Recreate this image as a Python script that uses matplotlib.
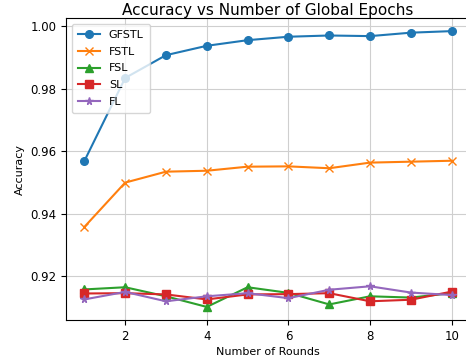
import matplotlib
matplotlib.use('Agg')
import matplotlib.pyplot as plt

### data
rounds = [1, 2, 3, 4, 5, 6, 7, 8, 9, 10]
gfstl = [0.9568, 0.9834, 0.9907, 0.9937, 0.9955, 0.9966, 0.9970, 0.9968, 0.9979, 0.9984]
fstl = [0.9357, 0.9499, 0.9534, 0.9537, 0.9550, 0.9551, 0.9545, 0.9563, 0.9566, 0.9569]
fsl = [0.9157, 0.9164, 0.9135, 0.9101, 0.9164, 0.9146, 0.9109, 0.9135, 0.9131, 0.9145]
sl = [0.9144, 0.9145, 0.9141, 0.9125, 0.9141, 0.9142, 0.9145, 0.9119, 0.9124, 0.9150]
fl = [0.9125, 0.9149, 0.9119, 0.9135, 0.9145, 0.9129, 0.9156, 0.9167, 0.9147, 0.9139]

fig = plt.figure(figsize=(4.66, 3.6), dpi=100)
# right edge of the axes runs a little past the picture, like the cropped original
ax = fig.add_axes([0.1416, 0.111, 0.867, 0.839])

ax.plot(rounds, gfstl, marker='o', markersize=5.5, label='GFSTL')
ax.plot(rounds, fstl, marker='x', markersize=5.5, label='FSTL')
ax.plot(rounds, fsl, marker='^', markersize=5.5, label='FSL')
ax.plot(rounds, sl, marker='s', markersize=5.5, label='SL')
ax.plot(rounds, fl, marker='*', markersize=5.5, label='FL')

ax.set_ylim(0.9059, 1.0026)
ax.set_xticks([2, 4, 6, 8, 10])
ax.set_yticks([0.92, 0.94, 0.96, 0.98, 1.00])
ax.tick_params(labelsize=8.5)
ax.grid(True, color='#cfcfcf')
ax.set_xlabel('Number of Rounds', fontsize=8, labelpad=3)
ax.set_ylabel('Accuracy', fontsize=8)
ax.set_title('Accuracy vs Number of Global Epochs', fontsize=11, pad=1.5)
ax.legend(loc='upper left', fontsize=8, labelspacing=0.62, borderpad=0.55)

fig.savefig('out.png', dpi=100)
